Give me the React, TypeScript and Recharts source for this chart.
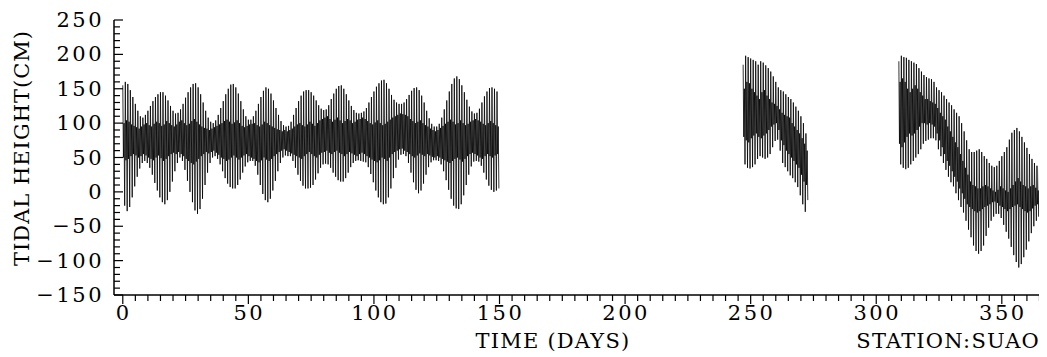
import React from 'react';
import { LineChart, Line, XAxis, YAxis } from 'recharts';

const FONT = '"DejaVu Serif", "Liberation Serif", serif';

// ---- tick labels ----
const X_MAJOR_TICKS = [0, 50, 100, 150, 200, 250, 300, 350];
const Y_MAJOR_TICKS = [-150, -100, -50, 0, 50, 100, 150, 200, 250];

// ---- segment 1 : days 0..149 (daily envelopes, cm) ----
const SEG1_START = 0;
const SEG1_HIGH = [
  155, 160, 157, 148, 138, 128, 118, 110, 108, 112,
  118, 125, 132, 138, 142, 145, 145, 140, 133, 125,
  118, 114, 115, 120, 128, 137, 145, 152, 157, 158,
  152, 142, 130, 118, 108, 102, 100, 104, 112, 122,
  132, 142, 150, 156, 157, 152, 143, 132, 120, 110,
  105, 105, 110, 118, 128, 138, 147, 152, 150, 143,
  133, 122, 112, 103, 97, 95, 96, 102, 112, 122,
  132, 140, 146, 148, 148, 145, 140, 133, 126, 121,
  119, 120, 126, 135, 143, 150, 154, 155, 150, 142,
  133, 125, 119, 115, 114, 115, 117, 122, 130, 138,
  146, 153, 158, 162, 163, 158, 150, 141, 134, 130,
  128, 128, 130, 135, 141, 147, 151, 152, 148, 140,
  130, 118, 107, 99, 95, 95, 99, 108, 120, 133,
  146, 157, 165, 168, 164, 155, 145, 134, 124, 117,
  114, 115, 121, 130, 139, 146, 151, 152, 150, 146,
];
const SEG1_LOW = [
  -20, -28, -22, -8, 8, 22, 34, 42, 45, 42,
  35, 25, 13, 2, -8, -15, -18, -12, 0, 15,
  30, 42, 50, 45, 32, 16, 0, -15, -27, -32,
  -25, -10, 10, 28, 42, 50, 52, 48, 40, 30,
  20, 12, 7, 5, 5, 10, 18, 28, 37, 43,
  45, 45, 38, 25, 10, -3, -12, -15, -10, 2,
  16, 30, 42, 50, 53, 52, 52, 45, 35, 25,
  16, 9, 5, 5, 6, 10, 18, 27, 35, 40,
  41, 40, 35, 28, 22, 17, 15, 15, 20, 28,
  36, 42, 45, 46, 45, 44, 43, 36, 26, 14,
  2, -8, -15, -18, -17, -8, 5, 20, 35, 47,
  54, 55, 52, 42, 28, 14, 3, -2, 2, 12,
  25, 36, 43, 46, 46, 45, 40, 30, 17, 3,
  -10, -20, -24, -25, -18, -5, 10, 25, 37, 44,
  45, 44, 38, 28, 18, 9, 3, 0, 2, 5,
];
const SEG1_INNER_HIGH = [
  100, 104, 102, 98, 96, 94, 92, 95, 98, 100,
  97, 95, 99, 102, 100, 96, 98, 103, 100, 97,
  95, 98, 102, 104, 100, 97, 99, 103, 106, 102,
  98, 95, 93, 92, 90, 92, 94, 96, 98, 100,
  103, 105, 102, 99, 101, 104, 100, 96, 94, 96,
  98, 99, 100, 97, 95, 98, 102, 100, 97, 95,
  93, 91, 90, 88, 90, 88, 90, 92, 95, 98,
  100, 97, 95, 98, 102, 99, 96, 100, 104, 106,
  108, 110, 106, 102, 105, 108, 104, 100, 103, 106,
  104, 100, 102, 105, 106, 108, 106, 103, 100, 98,
  101, 104, 100, 97, 99, 102, 105, 108, 110, 112,
  114, 113, 112, 110, 106, 103, 100, 102, 104, 100,
  97, 95, 92, 90, 88, 90, 93, 96, 99, 102,
  105, 102, 98, 100, 104, 100, 97, 99, 102, 104,
  106, 104, 102, 99, 97, 100, 103, 100, 97, 95,
];
const SEG1_INNER_LOW = [
  50, 46, 48, 52, 55, 53, 50, 52, 55, 53,
  50, 48, 46, 50, 53, 49, 45, 48, 52, 55,
  57, 55, 58, 55, 52, 48, 45, 42, 40, 44,
  48, 52, 55, 58, 56, 58, 60, 57, 54, 50,
  48, 45, 47, 50, 53, 50, 47, 50, 53, 55,
  52, 50, 48, 45, 43, 46, 50, 47, 45, 48,
  52, 55, 58, 60, 62, 60, 58, 56, 54, 52,
  50, 48, 52, 55, 58, 55, 52, 50, 54, 57,
  58, 60, 57, 55, 58, 60, 57, 55, 52, 55,
  58, 56, 54, 52, 55, 57, 55, 52, 50, 47,
  45, 43, 46, 50, 48, 45, 50, 55, 58, 60,
  62, 63, 60, 58, 55, 52, 50, 53, 56, 54,
  52, 55, 53, 51, 50, 52, 50, 48, 46, 44,
  42, 45, 48, 50, 47, 44, 48, 52, 55, 57,
  55, 53, 50, 48, 52, 55, 52, 50, 53, 55,
];

// ---- segment 2 : days 247..272 ----
const SEG2_START = 247;
const SEG2_HIGH = [185, 198, 196, 194, 192, 190, 185, 190, 188, 184, 180, 175, 168, 160, 152, 148, 146, 142, 138, 135, 130, 124, 118, 110, 100, 85];
const SEG2_LOW = [40, 35, 34, 36, 40, 48, 52, 50, 48, 50, 55, 65, 74, 76, 60, 42, 36, 30, 24, 20, 14, 7, -5, -18, -29, -12];
const SEG2_INNER_HIGH = [150, 160, 158, 150, 145, 140, 135, 145, 148, 140, 135, 130, 128, 125, 120, 115, 112, 110, 108, 100, 95, 90, 85, 78, 70, 60];
const SEG2_INNER_LOW = [80, 75, 72, 78, 82, 85, 80, 78, 82, 85, 90, 95, 98, 100, 90, 75, 68, 60, 55, 50, 45, 40, 35, 25, 15, 10];

// ---- segment 3 : days 309..365 ----
const SEG3_START = 309;
const SEG3_HIGH = [
  190, 198, 196, 195, 192, 190, 188, 186, 180, 175,
  170, 167, 165, 164, 160, 152, 148, 145, 140, 135,
  130, 126, 120, 115, 110, 100, 88, 75, 62, 58,
  58, 60, 62, 58, 52, 48, 42, 38, 36, 38,
  45, 52, 58, 65, 76, 86, 90, 93, 88, 80,
  72, 64, 55, 48, 42, 38, 35,
];
const SEG3_LOW = [
  40, 35, 33, 35, 40, 45, 50, 55, 62, 70,
  74, 76, 78, 78, 75, 62, 52, 42, 32, 22,
  14, 8, -2, -12, -22, -30, -42, -55, -66, -78,
  -86, -90, -86, -78, -64, -52, -42, -36, -32, -32,
  -38, -48, -58, -68, -80, -92, -102, -110, -105, -95,
  -84, -72, -60, -50, -42, -36, -32,
];
const SEG3_INNER_HIGH = [
  160, 165, 160, 150, 145, 150, 155, 150, 145, 140,
  135, 135, 132, 130, 128, 122, 115, 110, 105, 95,
  88, 80, 72, 65, 55, 45, 35, 25, 15, 10,
  8, 5, 5, 8, 10, 8, 5, 2, 0, 3,
  8, 5, 2, 0, 5, 10, 15, 20, 15, 10,
  8, 5, 8, 10, 6, 2, 0,
];
const SEG3_INNER_LOW = [
  70, 65, 72, 80, 85, 82, 85, 90, 95, 100,
  100, 98, 100, 98, 95, 85, 75, 65, 55, 45,
  38, 30, 22, 15, 5, -2, -10, -18, -22, -25,
  -28, -30, -28, -25, -22, -20, -18, -15, -14, -16,
  -20, -22, -25, -28, -25, -22, -20, -18, -22, -25,
  -28, -30, -28, -24, -20, -18, -16,
];

type Pt = { t: number; v: number | null };

function addSegment(out: Pt[], start: number, hi: number[], lo: number[], inHi: number[], inLo: number[]) {
  for (let i = 0; i < hi.length; i++) {
    const d = start + i;
    out.push({ t: d, v: hi[i] });
    out.push({ t: d + 0.25, v: inLo[i] });
    out.push({ t: d + 0.5, v: inHi[i] });
    out.push({ t: d + 0.75, v: lo[i] });
  }
}

const data: Pt[] = [];
addSegment(data, SEG1_START, SEG1_HIGH, SEG1_LOW, SEG1_INNER_HIGH, SEG1_INNER_LOW);
data.push({ t: 200, v: null });
addSegment(data, SEG2_START, SEG2_HIGH, SEG2_LOW, SEG2_INNER_HIGH, SEG2_INNER_LOW);
data.push({ t: 290, v: null });
addSegment(data, SEG3_START, SEG3_HIGH, SEG3_LOW, SEG3_INNER_HIGH, SEG3_INNER_LOW);

const X_TICKS: number[] = [];
for (let v = 0; v <= 365; v += 5) X_TICKS.push(v);
const Y_TICKS: number[] = [];
for (let v = -150; v <= 250; v += 10) Y_TICKS.push(v);

const fmt = (v: number) => (v < 0 ? '\u2212' + Math.abs(v) : String(v));

const XTick = (props: any) => {
  const { x, y, payload } = props;
  const v = payload.value as number;
  const major = X_MAJOR_TICKS.includes(v);
  return (
    <g>
      <line x1={x} x2={x} y1={y} y2={y + (major ? 9 : 6)} stroke="#000" strokeWidth={1.2} />
      {major && (
        <text x={x + 1} y={y + 25} textAnchor="middle" fontFamily={FONT} fontSize={21} letterSpacing={2.5} fill="#000">
          {fmt(v)}
        </text>
      )}
    </g>
  );
};

const YTick = (props: any) => {
  const { x, y, payload } = props;
  const v = payload.value as number;
  const major = Y_MAJOR_TICKS.includes(v);
  return (
    <g>
      <line x1={x} x2={x + (major ? 9 : 6)} y1={y} y2={y} stroke="#000" strokeWidth={1.2} />
      {major && (
        <text x={x - 10} y={y + 7} textAnchor="end" fontFamily={FONT} fontSize={21} letterSpacing={2.5} fill="#000">
          {fmt(v)}
        </text>
      )}
    </g>
  );
};

export default function App() {
  return (
    <LineChart width={1039} height={349} data={data} margin={{ top: 12, right: 5, bottom: 0, left: 0 }}>
      <XAxis
        dataKey="t"
        type="number"
        domain={[-3.5, 366]}
        allowDataOverflow
        ticks={X_TICKS}
        interval={0}
        tick={<XTick />}
        tickLine={false}
        tickSize={0}
        tickMargin={0}
        axisLine={{ stroke: '#000', strokeWidth: 1.5 }}
        height={62}
      />
      <YAxis
        type="number"
        domain={[-150, 250]}
        allowDataOverflow
        ticks={Y_TICKS}
        interval={0}
        tick={<YTick />}
        tickLine={false}
        tickSize={0}
        tickMargin={0}
        axisLine={{ stroke: '#000', strokeWidth: 1.5 }}
        width={106}
      />
      <Line
        dataKey="v"
        type="linear"
        stroke="#000"
        strokeWidth={0.8}
        dot={false}
        activeDot={false}
        connectNulls={false}
        isAnimationActive={false}
      />
      <text x={545} y={340} textAnchor="middle" fontFamily={FONT} fontSize={21} letterSpacing={1.2} fill="#000">TIME (DAYS)</text>
      <text x={1032} y={340} textAnchor="end" fontFamily={FONT} fontSize={21} letterSpacing={1.2} fill="#000">STATION:SUAO</text>
      <text
        x={14}
        y={140}
        textAnchor="middle"
        dominantBaseline="central"
        fontFamily={FONT}
        fontSize={21}
        letterSpacing={1}
        fill="#000"
        transform="rotate(-90 14 140)"
      >
        TIDAL HEIGHT(CM)
      </text>
    </LineChart>
  );
}
